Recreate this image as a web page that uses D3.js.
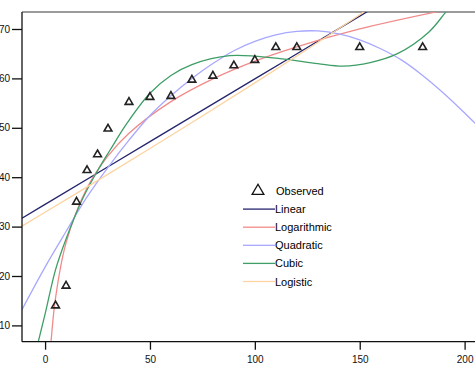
<!DOCTYPE html>
<html>
<head>
<meta charset="utf-8">
<script src="https://cdn.jsdelivr.net/npm/d3@7"></script>
<style>
  body { margin: 0; background: #fff; }
  svg { display: block; font-family: "Liberation Sans", Arial, sans-serif; }
</style>
</head>
<body>
<div id="chart"></div>
<script>
var W = 475, H = 365;

// observed points
var obsX = [5, 10, 15, 20, 25, 30, 40, 50, 60, 70, 80, 90, 100, 110, 120, 150, 180];
var obsY = [14, 18, 35, 41.4, 44.6, 49.8, 55.2, 56.2, 56.4, 59.7, 60.5, 62.6, 63.7, 66.3, 66.3, 66.3, 66.3];

// fitted curves
var linearX = [-11, 0, 50, 100, 150, 210];
var linearY = [31.7, 34.5, 47.2, 59.9, 72.6, 87.9];

var logX = [2.5, 3, 5, 10, 20, 30, 40, 60, 80, 100, 120, 150, 187, 210];
var logY = [4.5, 7.5, 15.6, 26.7, 37.8, 44.3, 48.9, 55.3, 59.9, 63.5, 66.4, 70.0, 73.5, 75.4];

var quadX = [-11, 0, 10, 20, 30, 40, 50, 60, 70, 80, 90, 100, 110, 120, 130, 140, 150, 160, 170, 180, 190, 200, 210];
var quadY = [13.2, 21.8, 29.0, 36.0, 42.0, 47.5, 52.5, 56.5, 60.0, 63.0, 65.6, 67.5, 68.8, 69.5, 69.6, 69.0, 67.8, 66.0, 63.7, 60.6, 57.0, 53.0, 48.8];

var cubicX = [-5, -3.3, 0, 5, 10, 17.6, 25, 31, 39, 50, 60, 70, 88, 112, 130, 142, 155, 168, 183, 191, 200];
var cubicY = [3.5, 6.6, 12.3, 21.3, 27.5, 35.4, 41.3, 45.5, 50.9, 57.0, 60.6, 62.8, 64.6, 64.0, 63.0, 62.5, 63.2, 65.0, 69.4, 73.4, 78.0];

var logisticX = [-11, 0, 25, 50, 75, 100, 125, 150, 175, 210];
var logisticY = [30.1, 32.9, 39.3, 45.8, 52.4, 59.1, 65.9, 72.9, 80.2, 90.5];

var xTicks = [0, 50, 100, 150, 200];
var yTicks = [10, 20, 30, 40, 50, 60, 70];

var series = [
  { name: "Linear", xs: linearX, ys: linearY, color: "#26266e" },
  { name: "Logarithmic", xs: logX, ys: logY, color: "#f28a8a" },
  { name: "Quadratic", xs: quadX, ys: quadY, color: "#a8a8ff" },
  { name: "Cubic", xs: cubicX, ys: cubicY, color: "#3e9e66" },
  { name: "Logistic", xs: logisticX, ys: logisticY, color: "#fdd3a0" }
];

var plotL = 22, plotT = 12, plotB = 341.7, plotR = 486;

var x = d3.scaleLinear().domain([-11, 210.2]).range([plotL, plotR]);
var y = d3.scaleLinear().domain([6.7, 73.44]).range([plotB, plotT]);

var svg = d3.select("#chart").append("svg")
    .attr("width", W)
    .attr("height", H);

svg.append("defs").append("clipPath")
    .attr("id", "plot")
  .append("rect")
    .attr("x", plotL)
    .attr("y", plotT)
    .attr("width", plotR - plotL)
    .attr("height", plotB - plotT);

// top border
svg.append("line")
    .attr("x1", plotL).attr("x2", W)
    .attr("y1", plotT).attr("y2", plotT)
    .attr("stroke", "#7a7a7a")
    .attr("stroke-width", 1.5);

var line = d3.line()
    .x(function(d) { return x(d[0]); })
    .y(function(d) { return y(d[1]); })
    .curve(d3.curveCatmullRom);

var plot = svg.append("g").attr("clip-path", "url(#plot)");

series.forEach(function(s) {
  plot.append("path")
      .datum(s.xs.map(function(v, i) { return [v, s.ys[i]]; }))
      .attr("fill", "none")
      .attr("stroke", s.color)
      .attr("stroke-width", 1.3)
      .attr("d", line);
});

var tri = d3.symbol().type(d3.symbolTriangle).size(26);

plot.selectAll(".obs")
    .data(obsX.map(function(v, i) { return [v, obsY[i]]; }))
  .enter().append("path")
    .attr("class", "obs")
    .attr("d", tri)
    .attr("transform", function(d) { return "translate(" + x(d[0]) + "," + y(d[1]) + ")"; })
    .attr("fill", "none")
    .attr("stroke", "#222")
    .attr("stroke-width", 1.6);

// axes
var xAxis = d3.axisBottom(x).tickValues(xTicks).tickSize(8).tickPadding(6);
var yAxis = d3.axisLeft(y).tickValues(yTicks).tickSize(10).tickPadding(2);

var gx = svg.append("g")
    .attr("transform", "translate(0," + plotB + ")")
    .call(xAxis);
gx.select(".domain").attr("d", "M" + plotL + ",0H" + W);

var gy = svg.append("g")
    .attr("transform", "translate(" + plotL + ",0)")
    .call(yAxis);
gy.select(".domain").attr("d", "M0," + plotT + "V" + plotB);

svg.selectAll(".tick text")
    .attr("font-size", 10)
    .attr("fill", "#111")
    .attr("font-family", "Liberation Sans, Arial, sans-serif");
svg.selectAll(".domain, .tick line")
    .attr("stroke", "#111")
    .attr("stroke-width", 1.3);

// legend
var lg = svg.append("g").attr("transform", "translate(243,191)");
lg.append("path")
    .attr("d", d3.symbol().type(d3.symbolTriangle).size(60))
    .attr("transform", "translate(15,0)")
    .attr("fill", "none")
    .attr("stroke", "#111")
    .attr("stroke-width", 1.3);
lg.append("text")
    .attr("x", 33).attr("y", 4)
    .attr("font-size", 11)
    .text("Observed");

series.forEach(function(s, i) {
  var row = lg.append("g").attr("transform", "translate(0," + (18.1 * (i + 1)) + ")");
  row.append("line")
      .attr("x1", 0).attr("x2", 32)
      .attr("stroke", s.color)
      .attr("stroke-width", 1.3);
  row.append("text")
      .attr("x", 32).attr("y", 4)
      .attr("font-size", 11)
      .text(s.name);
});
</script>
</body>
</html>
